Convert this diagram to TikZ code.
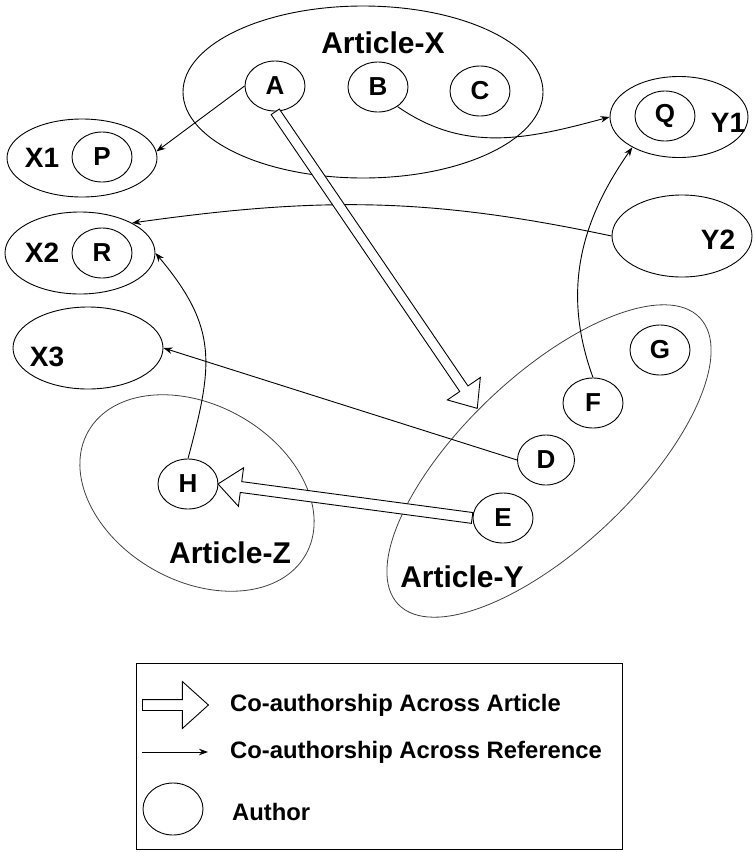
\documentclass[tikz,border=0pt]{standalone}
\usepackage{fontspec}
\setmainfont{Liberation Sans}
\usetikzlibrary{shapes.geometric,shapes.arrows,arrows.meta,calc}
\begin{document}
\begin{tikzpicture}[x=1pt,y=-1pt,
  auth/.style={draw, ellipse, line width=0.9pt, inner sep=0pt, minimum width=60pt, minimum height=50pt, font=\bfseries\fontsize{26}{26}\selectfont},
  grp/.style={draw, ellipse, line width=0.9pt, inner sep=0pt},
  lab/.style={font=\bfseries\fontsize{28}{28}\selectfont, inner sep=0pt},
  artlab/.style={font=\bfseries\fontsize{30}{30}\selectfont, inner sep=0pt},
  leglab/.style={font=\bfseries\fontsize{23.8}{23.8}\selectfont, inner sep=0pt, anchor=west},
  ref/.style={line width=0.9pt, -{Stealth[length=9pt,width=6.5pt]}},
  fat/.style={draw, fill=white, line width=0.9pt, single arrow, inner sep=4.5pt, minimum width=0pt, single arrow head extend=15pt, single arrow tip angle=80},
]
\useasboundingbox (0,0) rectangle (753,852);

% group ellipses
\node[grp, minimum width=360pt, minimum height=172pt] (ArtX) at (363,92) {};
\node[grp, draw=black!75, line width=0.8pt, minimum width=416pt, minimum height=172pt, rotate=43.5] (ArtY) at (549,461) {};
\node[grp, draw=black!75, line width=0.8pt, minimum width=250pt, minimum height=176pt, rotate=-29.5] (ArtZ) at (197,493) {};
\node[grp, minimum width=150pt, minimum height=78pt] (X1) at (82,158) {};
\node[grp, minimum width=150pt, minimum height=82pt] (X2) at (80,253) {};
\node[grp, minimum width=150pt, minimum height=82pt] (X3) at (88,348) {};
\node[grp, minimum width=138pt, minimum height=81pt] (Y1) at (679,117) {};
\node[grp, minimum width=140pt, minimum height=82pt] (Y2) at (682,236) {};

% labels
\node[artlab] (lArtX) at (383,43) {Article-X};
\node[artlab] (lArtY) at (462,577) {Article-Y};
\node[artlab] (lArtZ) at (230,553) {Article-Z};
\node[lab] (lX1) at (42,158) {X1};
\node[lab] (lX2) at (42,253) {X2};
\node[lab] (lX3) at (47,357) {X3};
\node[lab] (lY1) at (728,123) {Y1};
\node[lab] (lY2) at (718,240) {Y2};

% authors
\node[auth] (A) at (275,86) {A};
\node[auth] (B) at (378,87) {B};
\node[auth] (C) at (480,91) {C};
\node[auth] (P) at (102,157) {P};
\node[auth] (R) at (102,253) {R};
\node[auth] (Q) at (665,116) {Q};
\node[auth, minimum width=57pt] (D) at (546,460) {D};
\node[auth] (E) at (503,518) {E};
\node[auth] (F) at (593,403) {F};
\node[auth] (G) at (660,350) {G};
\node[auth] (H) at (188,484) {H};

% reference co-authorship arrows
\draw[ref] (A.west) -- (X1.5);
\draw[ref] (B.-45) to[out=-35, in=195] (Y1.west);
\draw[ref] (Y2.west) to[out=168, in=8] (X2.30);
\draw[ref] (H.north) to[out=75, in=-50, looseness=1.2] (X2.east);
\draw[ref] (D.west) -- (X3.east);
\draw[ref] (F.north) to[out=110, in=-125] (Y1.-147);

% article co-authorship arrows
\coordinate (ytip) at (477,408);
\path let \p1=(A.south), \p2=(ytip), \n1={atan2(\y2-\y1,\x2-\x1)}, \n2={veclen(\x2-\x1,\y2-\y1)} in
  node[fat, rotate=\n1, minimum height=\n2, anchor=tail] (AY) at (\p1) {};
\path let \p1=(E.west), \p2=(H.east), \n1={atan2(\y2-\y1,\x2-\x1)}, \n2={veclen(\x2-\x1,\y2-\y1)} in
  node[fat, inner sep=5pt, single arrow head extend=14pt, rotate=\n1, minimum height=\n2, anchor=tail] (EH) at (\p1) {};

% legend
\node[draw, line width=1pt, inner sep=0pt, minimum width=486pt, minimum height=186pt] (legend) at (379,756) {};
\coordinate (l1s) at (142,705);
\coordinate (l1e) at (208,705);
\path let \p1=(l1s), \p2=(l1e), \n2={veclen(\x2-\x1,\y2-\y1)} in
  node[fat, inner sep=5pt, single arrow head extend=18pt, single arrow tip angle=84, minimum height=\n2, anchor=tail] (LA) at (\p1) {};
\coordinate (l2s) at (142,752);
\coordinate (l2e) at (208,752);
\draw[ref] (l2s) -- (l2e);
\node[grp, minimum width=60pt, minimum height=52pt] (LE) at (173,809) {};
\node[leglab] (t1) at (230,705) {Co-authorship Across Article};
\node[leglab] (t2) at (230,752) {Co-authorship Across Reference};
\node[leglab] (t3) at (232,812) {Author};
\end{tikzpicture}
\end{document}
